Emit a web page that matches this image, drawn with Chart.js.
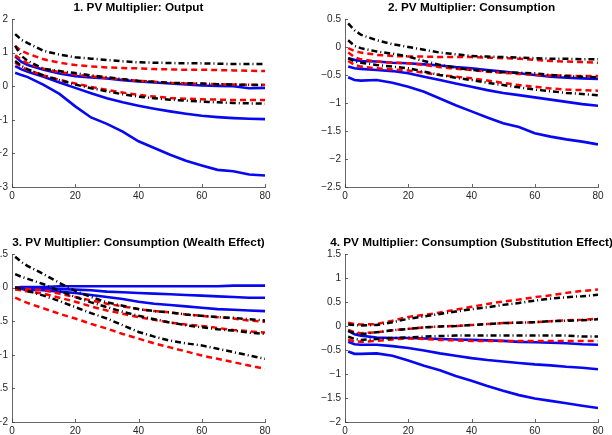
<!DOCTYPE html>
<html>
<head>
<meta charset="utf-8">
<script src="https://cdn.jsdelivr.net/npm/chart.js@4/dist/chart.umd.min.js"></script>
<style>
  body { margin: 0; width: 612px; height: 435px; overflow: hidden; background: #fff; position: relative; }
  canvas { position: absolute; }
</style>
</head>
<body>
<canvas id="c1" width="333" height="217" style="left:-28px;top:0px"></canvas>
<canvas id="c2" width="333" height="217" style="left:305px;top:0px"></canvas>
<canvas id="c3" width="333" height="217" style="left:-28px;top:235px"></canvas>
<canvas id="c4" width="333" height="217" style="left:305px;top:235px"></canvas>
<script>
let horizon = [1, 3, 5, 10, 15, 20, 25, 30, 35, 40, 45, 50, 55, 60, 65, 70, 75, 80];

// 1. Output
let outBlackHi = [1.55, 1.38, 1.28, 1.05, 0.94, 0.86, 0.82, 0.78, 0.74, 0.71, 0.70, 0.69, 0.68, 0.68, 0.67, 0.66, 0.66, 0.66];
let outBlackMid = [1.2, 0.9, 0.75, 0.52, 0.45, 0.39, 0.32, 0.27, 0.21, 0.16, 0.13, 0.1, 0.09, 0.08, 0.06, 0.05, 0.04, 0.03];
let outBlackLo = [0.75, 0.6, 0.5, 0.32, 0.18, 0.05, -0.06, -0.15, -0.24, -0.31, -0.36, -0.4, -0.43, -0.46, -0.48, -0.5, -0.51, -0.52];
let outRedHi = [1.2, 1.05, 0.97, 0.8, 0.7, 0.63, 0.59, 0.56, 0.54, 0.53, 0.51, 0.5, 0.49, 0.49, 0.48, 0.47, 0.46, 0.45];
let outRedMid = [0.92, 0.78, 0.68, 0.52, 0.42, 0.35, 0.29, 0.24, 0.2, 0.16, 0.13, 0.1, 0.08, 0.07, 0.06, 0.05, 0.04, 0.04];
let outRedLo = [0.7, 0.58, 0.48, 0.32, 0.19, 0.08, -0.02, -0.11, -0.19, -0.26, -0.31, -0.35, -0.37, -0.39, -0.4, -0.41, -0.41, -0.41];
let outBlueHi = [0.88, 0.72, 0.63, 0.49, 0.38, 0.3, 0.26, 0.23, 0.18, 0.14, 0.11, 0.08, 0.05, 0.02, 0.01, 0.0, -0.06, -0.05];
let outBlueMid = [0.6, 0.5, 0.43, 0.28, 0.11, -0.05, -0.21, -0.36, -0.48, -0.58, -0.67, -0.75, -0.82, -0.88, -0.92, -0.95, -0.97, -0.98];
let outBlueLo = [0.4, 0.33, 0.27, 0.04, -0.23, -0.6, -0.93, -1.12, -1.35, -1.64, -1.84, -2.04, -2.22, -2.36, -2.49, -2.53, -2.63, -2.66];

// 2. Consumption
let conBlackHi = [0.42, 0.3, 0.22, 0.12, 0.05, 0.0, -0.05, -0.1, -0.13, -0.16, -0.17, -0.18, -0.19, -0.2, -0.21, -0.21, -0.22, -0.22];
let conBlackMid = [0.12, 0.02, -0.02, -0.08, -0.12, -0.17, -0.25, -0.32, -0.37, -0.41, -0.43, -0.45, -0.46, -0.47, -0.5, -0.52, -0.53, -0.54];
let conBlackLo = [-0.2, -0.26, -0.28, -0.32, -0.35, -0.38, -0.44, -0.5, -0.55, -0.59, -0.64, -0.68, -0.72, -0.76, -0.79, -0.82, -0.84, -0.86];
let conRedHi = [-0.02, -0.07, -0.1, -0.14, -0.16, -0.17, -0.17, -0.18, -0.18, -0.18, -0.19, -0.2, -0.21, -0.23, -0.25, -0.26, -0.27, -0.28];
let conRedMid = [-0.1, -0.18, -0.22, -0.26, -0.28, -0.29, -0.32, -0.36, -0.39, -0.41, -0.44, -0.46, -0.48, -0.5, -0.51, -0.51, -0.52, -0.52];
let conRedLo = [-0.25, -0.32, -0.35, -0.38, -0.4, -0.42, -0.46, -0.5, -0.53, -0.56, -0.6, -0.64, -0.68, -0.71, -0.74, -0.76, -0.77, -0.78];
let conBlueHi = [-0.2, -0.23, -0.25, -0.26, -0.28, -0.29, -0.31, -0.33, -0.36, -0.38, -0.41, -0.44, -0.47, -0.5, -0.53, -0.55, -0.56, -0.57];
let conBlueMid = [-0.35, -0.38, -0.39, -0.41, -0.43, -0.47, -0.53, -0.59, -0.65, -0.71, -0.77, -0.82, -0.86, -0.9, -0.94, -0.98, -1.02, -1.05];
let conBlueLo = [-0.54, -0.59, -0.6, -0.59, -0.64, -0.71, -0.8, -0.92, -1.04, -1.15, -1.26, -1.36, -1.43, -1.54, -1.6, -1.65, -1.69, -1.74];

// 3. Consumption, wealth effect
let wltBlackHi = [0.46, 0.38, 0.32, 0.2, 0.07, -0.05, -0.14, -0.22, -0.27, -0.32, -0.35, -0.37, -0.4, -0.42, -0.44, -0.45, -0.47, -0.49];
let wltBlackMid = [0.2, 0.16, 0.13, 0.05, -0.05, -0.14, -0.22, -0.29, -0.36, -0.42, -0.47, -0.52, -0.56, -0.59, -0.62, -0.64, -0.67, -0.69];
let wltBlackLo = [0.0, -0.02, -0.05, -0.12, -0.2, -0.29, -0.38, -0.46, -0.56, -0.66, -0.73, -0.79, -0.83, -0.86, -0.91, -0.96, -1.01, -1.06];
let wltRedHi = [0.0, -0.01, -0.02, -0.04, -0.09, -0.14, -0.19, -0.24, -0.28, -0.32, -0.35, -0.37, -0.4, -0.42, -0.44, -0.46, -0.49, -0.51];
let wltRedMid = [-0.03, -0.04, -0.06, -0.09, -0.15, -0.21, -0.28, -0.34, -0.39, -0.44, -0.48, -0.52, -0.55, -0.57, -0.6, -0.63, -0.65, -0.67];
let wltRedLo = [-0.15, -0.19, -0.23, -0.31, -0.39, -0.46, -0.54, -0.61, -0.69, -0.76, -0.83, -0.89, -0.95, -1.01, -1.06, -1.11, -1.16, -1.21];
let wltBlueHi = [0.0, 0.01, 0.01, 0.01, 0.02, 0.02, 0.02, 0.02, 0.02, 0.02, 0.02, 0.02, 0.02, 0.02, 0.02, 0.03, 0.03, 0.03];
let wltBlueMid = [0.0, 0.0, -0.01, -0.01, -0.02, -0.03, -0.04, -0.06, -0.07, -0.08, -0.09, -0.1, -0.11, -0.12, -0.13, -0.14, -0.15, -0.15];
let wltBlueLo = [-0.02, -0.02, -0.03, -0.04, -0.06, -0.08, -0.11, -0.14, -0.17, -0.21, -0.24, -0.26, -0.28, -0.3, -0.32, -0.33, -0.34, -0.35];

// 4. Consumption, substitution effect
let subBlackHi = [0.03, 0.02, 0.01, 0.02, 0.08, 0.15, 0.2, 0.25, 0.3, 0.35, 0.39, 0.44, 0.48, 0.53, 0.57, 0.6, 0.62, 0.65];
let subBlackMid = [-0.1, -0.15, -0.17, -0.13, -0.09, -0.06, -0.03, -0.01, 0.0, 0.02, 0.04, 0.06, 0.07, 0.08, 0.1, 0.11, 0.12, 0.14];
let subBlackLo = [-0.22, -0.27, -0.29, -0.27, -0.25, -0.24, -0.22, -0.21, -0.2, -0.2, -0.2, -0.2, -0.2, -0.2, -0.2, -0.2, -0.22, -0.22];
let subRedHi = [0.07, 0.04, 0.03, 0.04, 0.11, 0.19, 0.23, 0.28, 0.34, 0.4, 0.46, 0.51, 0.55, 0.6, 0.64, 0.69, 0.73, 0.76];
let subRedMid = [-0.08, -0.13, -0.15, -0.13, -0.09, -0.06, -0.03, -0.01, 0.0, 0.02, 0.04, 0.06, 0.07, 0.08, 0.1, 0.12, 0.13, 0.15];
let subRedLo = [-0.28, -0.32, -0.33, -0.31, -0.28, -0.26, -0.27, -0.29, -0.3, -0.31, -0.31, -0.31, -0.31, -0.31, -0.31, -0.31, -0.31, -0.31];
let subBlueHi = [-0.1, -0.17, -0.2, -0.24, -0.25, -0.25, -0.26, -0.27, -0.28, -0.29, -0.3, -0.31, -0.33, -0.34, -0.35, -0.36, -0.38, -0.39];
let subBlueMid = [-0.33, -0.38, -0.39, -0.39, -0.42, -0.46, -0.51, -0.57, -0.62, -0.67, -0.71, -0.74, -0.77, -0.8, -0.82, -0.85, -0.87, -0.9];
let subBlueLo = [-0.53, -0.58, -0.58, -0.57, -0.62, -0.72, -0.83, -0.92, -1.04, -1.14, -1.25, -1.35, -1.44, -1.51, -1.56, -1.61, -1.66, -1.71];

let xTicks = [0, 20, 40, 60, 80];

const FONT = "'Liberation Sans', Arial, Helvetica, sans-serif";
const AXIS = "#404040";

function pts(arr) {
  return arr.map((v, i) => ({ x: horizon[i], y: v }));
}

function black(arr) {
  return { data: pts(arr), borderColor: "#000000", borderWidth: 2.5, borderDash: [6, 3, 1, 3] };
}
function red(arr) {
  return { data: pts(arr), borderColor: "#ff0000", borderWidth: 2.5, borderDash: [6, 4] };
}
function blue(arr) {
  return { data: pts(arr), borderColor: "#0808f0", borderWidth: 2.6 };
}

// MATLAB style: ticks pointing inwards
const inwardTicks = {
  id: "inwardTicks",
  afterDraw(chart) {
    const ctx = chart.ctx;
    const xs = chart.scales.x, ys = chart.scales.y;
    ctx.save();
    ctx.strokeStyle = AXIS;
    ctx.lineWidth = 0.8;
    ctx.beginPath();
    xs.ticks.forEach(t => {
      const px = Math.round(xs.getPixelForValue(t.value)) + 0.5;
      ctx.moveTo(px, ys.bottom);
      ctx.lineTo(px, ys.bottom - 3);
    });
    ys.ticks.forEach(t => {
      const py = Math.round(ys.getPixelForValue(t.value)) + 0.5;
      ctx.moveTo(xs.left, py);
      ctx.lineTo(xs.left + 3, py);
    });
    ctx.stroke();
    ctx.restore();
  }
};

function makeChart(id, title, sets, yMin, yMax, yStep) {
  const datasets = [];
  sets.black.forEach(a => datasets.push(black(a)));
  sets.red.forEach(a => datasets.push(red(a)));
  sets.blue.forEach(a => datasets.push(blue(a)));
  datasets.forEach(d => { d.pointRadius = 0; d.tension = 0; d.fill = false; });

  return new Chart(document.getElementById(id).getContext("2d"), {
    type: "line",
    data: { datasets: datasets },
    options: {
      responsive: false,
      animation: false,
      layout: { padding: 0 },
      plugins: {
        legend: { display: false },
        tooltip: { enabled: false },
        title: {
          display: true,
          text: title,
          color: "#000",
          font: { family: FONT, size: 11.75, weight: "bold", lineHeight: 1.2 },
          padding: { top: 0.5, bottom: 4.4 }
        }
      },
      scales: {
        x: {
          type: "linear",
          min: 0,
          max: 80,
          afterBuildTicks: s => { s.ticks = xTicks.map(v => ({ value: v })); },
          afterFit: s => { s.height = 30; s.paddingLeft = 0; s.paddingRight = 40; },
          grid: { display: false, drawTicks: false },
          border: { display: true, color: AXIS, width: 0.8 },
          ticks: { color: "#262626", font: { family: FONT, size: 10 }, padding: 3, maxRotation: 0 }
        },
        y: {
          min: yMin,
          max: yMax,
          afterFit: s => { s.width = 40; s.paddingTop = 0; s.paddingBottom = 0; },
          grid: { display: false, drawTicks: false },
          border: { display: true, color: AXIS, width: 0.8 },
          ticks: {
            stepSize: yStep,
            color: "#262626",
            font: { family: FONT, size: 10 },
            padding: 4,
            callback: v => String(Math.round(v * 10) / 10).replace("-", "\u2212")
          }
        }
      }
    },
    plugins: [inwardTicks]
  });
}

makeChart("c1", "1. PV Multiplier: Output",
  { black: [outBlackHi, outBlackMid, outBlackLo], red: [outRedHi, outRedMid, outRedLo], blue: [outBlueHi, outBlueMid, outBlueLo] },
  -3, 2, 1);
makeChart("c2", "2. PV Multiplier: Consumption",
  { black: [conBlackHi, conBlackMid, conBlackLo], red: [conRedHi, conRedMid, conRedLo], blue: [conBlueHi, conBlueMid, conBlueLo] },
  -2.5, 0.5, 0.5);
makeChart("c3", "3. PV Multiplier: Consumption (Wealth Effect)",
  { black: [wltBlackHi, wltBlackMid, wltBlackLo], red: [wltRedHi, wltRedMid, wltRedLo], blue: [wltBlueHi, wltBlueMid, wltBlueLo] },
  -2, 0.5, 0.5);
makeChart("c4", "4. PV Multiplier: Consumption (Substitution Effect)",
  { black: [subBlackHi, subBlackMid, subBlackLo], red: [subRedHi, subRedMid, subRedLo], blue: [subBlueHi, subBlueMid, subBlueLo] },
  -2, 1.5, 0.5);
</script>
</body>
</html>
